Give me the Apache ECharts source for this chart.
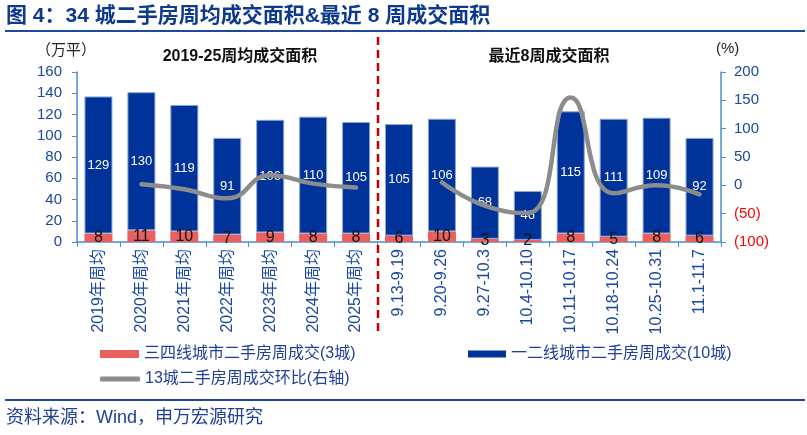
<!DOCTYPE html>
<html>
<head>
<meta charset="utf-8">
<script src="https://cdn.jsdelivr.net/npm/echarts@6/dist/echarts.min.js"></script>
<style>
  html, body { margin: 0; padding: 0; background: #fff; }
  #chart { width: 807px; height: 435px; }
</style>
</head>
<body>
<div id="chart"></div>
<script>
// 类目
const categories = [
  '2019年周均', '2020年周均', '2021年周均', '2022年周均', '2023年周均', '2024年周均', '2025年周均',
  '9.13-9.19', '9.20-9.26', '9.27-10.3', '10.4-10.10', '10.11-10.17', '10.18-10.24', '10.25-10.31', '11.1-11.7'
]
// 三四线城市（3城）
const tier34 = [8, 11, 10, 7, 9, 8, 8, 6, 10, 3, 2, 8, 5, 8, 6]
// 一二线城市（10城）
const tier12 = [129, 130, 119, 91, 106, 110, 105, 105, 106, 68, 46, 115, 111, 109, 92]
// 13城环比 %，右轴
const momPct = [null, 2, -7, -23, 18, 3, -4, null, 5, -36, -49, 155, -14, 0, -16]

const leftTicks = { min: 0, max: 160, interval: 20 }
const rightTicks = { min: -100, max: 200, interval: 50 }

const FONT = '"Liberation Sans", "Noto Sans CJK SC", sans-serif'
const AXIS_BLUE = '#4a8fd4'
const LABEL_BLUE = '#1a47a0'

const chart = echarts.init(document.getElementById('chart'))

const option = {
  animation: false,
  textStyle: { fontFamily: FONT },
  grid: { left: 77, right: 86, top: 72, bottom: 193 },
  legend: [
    {
      data: ['三四线城市二手房周成交(3城)'],
      left: 100, top: 346, padding: 0,
      icon: 'rect', itemWidth: 39, itemHeight: 8,
      itemStyle: { borderWidth: 0 },
      textStyle: { color: '#1f3f99', fontSize: 16, fontFamily: FONT }
    },
    {
      data: ['一二线城市二手房周成交(10城)'],
      left: 468, top: 346, padding: 0,
      icon: 'rect', itemWidth: 38, itemHeight: 7,
      itemStyle: { borderWidth: 0 },
      textStyle: { color: '#1f3f99', fontSize: 16, fontFamily: FONT }
    },
    {
      data: ['13城二手房周成交环比(右轴)'],
      left: 100, top: 371, padding: 0,
      icon: 'roundRect', itemWidth: 40, itemHeight: 5,
      textStyle: { color: '#1f3f99', fontSize: 16, fontFamily: FONT }
    }
  ],
  xAxis: {
    type: 'category',
    data: categories,
    axisLine: { lineStyle: { color: AXIS_BLUE, width: 1.5 } },
    axisTick: { show: true, length: 5, lineStyle: { color: AXIS_BLUE } },
    axisLabel: {
      rotate: 90,
      interval: 0,
      margin: 7,
      color: LABEL_BLUE,
      fontSize: 16,
      fontFamily: FONT
    }
  },
  yAxis: [
    {
      type: 'value',
      ...leftTicks,
      splitLine: { show: false },
      axisLine: { show: true, lineStyle: { color: AXIS_BLUE, width: 1.5 } },
      axisTick: { show: true, length: 5, lineStyle: { color: AXIS_BLUE } },
      axisLabel: { color: LABEL_BLUE, fontSize: 15, margin: 15, fontFamily: FONT }
    },
    {
      type: 'value',
      ...rightTicks,
      splitLine: { show: false },
      axisLine: { show: true, lineStyle: { color: AXIS_BLUE, width: 1.5 } },
      axisTick: { show: true, length: 5, lineStyle: { color: AXIS_BLUE } },
      axisLabel: {
        fontSize: 15,
        margin: 13,
        fontFamily: FONT,
        formatter: v => (v < 0 ? '(' + Math.abs(v) + ')' : String(v)),
        color: v => (Number(v) < 0 ? '#ff0000' : LABEL_BLUE)
      }
    }
  ],
  series: [
    {
      name: '三四线城市二手房周成交(3城)',
      type: 'bar',
      stack: 'area',
      barWidth: 28,
      data: tier34,
      itemStyle: { color: '#e8615f' },
      label: {
        show: true,
        position: 'inside',
        color: '#111',
        fontSize: 16,
        fontFamily: FONT
      },
      z: 2
    },
    {
      name: '一二线城市二手房周成交(10城)',
      type: 'bar',
      stack: 'area',
      barWidth: 28,
      data: tier12,
      itemStyle: { color: '#003399', borderColor: '#8aa5d6', borderWidth: 1 },
      label: {
        show: true,
        position: 'inside',
        color: '#fff',
        fontSize: 13,
        fontFamily: FONT
      },
      z: 2
    },
    {
      name: '13城二手房周成交环比(右轴)',
      type: 'line',
      yAxisIndex: 1,
      data: momPct,
      smooth: 0.5,
      connectNulls: false,
      symbol: 'none',
      lineStyle: { color: '#8c8c8c', width: 4.5, cap: 'round' },
      itemStyle: { color: '#8c8c8c' },
      z: 5
    }
  ],
  graphic: [
    {
      type: 'text', left: 6, top: 6,
      style: {
        text: '图 4：34 城二手房周均成交面积&最近 8 周成交面积',
        fill: '#0d3a8f', font: 'bold 21px ' + FONT
      }
    },
    {
      type: 'line',
      shape: { x1: 5, y1: 31, x2: 805, y2: 31 },
      style: { stroke: '#1c4aa0', lineWidth: 2 }
    },
    {
      type: 'text', left: 36, top: 43,
      style: { text: '（万平）', fill: '#222', font: '15px ' + FONT }
    },
    {
      type: 'text', left: 716, top: 41,
      style: { text: '(%)', fill: '#222', font: '15px ' + FONT }
    },
    {
      type: 'text', x: 240, y: 57,
      style: {
        text: '2019-25周均成交面积', fill: '#111', font: 'bold 16px ' + FONT,
        align: 'center', verticalAlign: 'middle'
      }
    },
    {
      type: 'text', x: 549, y: 57,
      style: {
        text: '最近8周成交面积', fill: '#111', font: 'bold 16px ' + FONT,
        align: 'center', verticalAlign: 'middle'
      }
    },
    {
      type: 'line',
      shape: { x1: 378, y1: 37, x2: 378, y2: 336 },
      style: { stroke: '#c00000', lineWidth: 2.5, lineDash: [8, 5] },
      z: 10
    },
    {
      type: 'line',
      shape: { x1: 5, y1: 400, x2: 805, y2: 400 },
      style: { stroke: '#1c4aa0', lineWidth: 2 }
    },
    {
      type: 'text', left: 6, top: 409,
      style: { text: '资料来源：Wind，申万宏源研究', fill: '#1f3f99', font: '18px ' + FONT }
    }
  ]
}

chart.setOption(option)
</script>
</body>
</html>
